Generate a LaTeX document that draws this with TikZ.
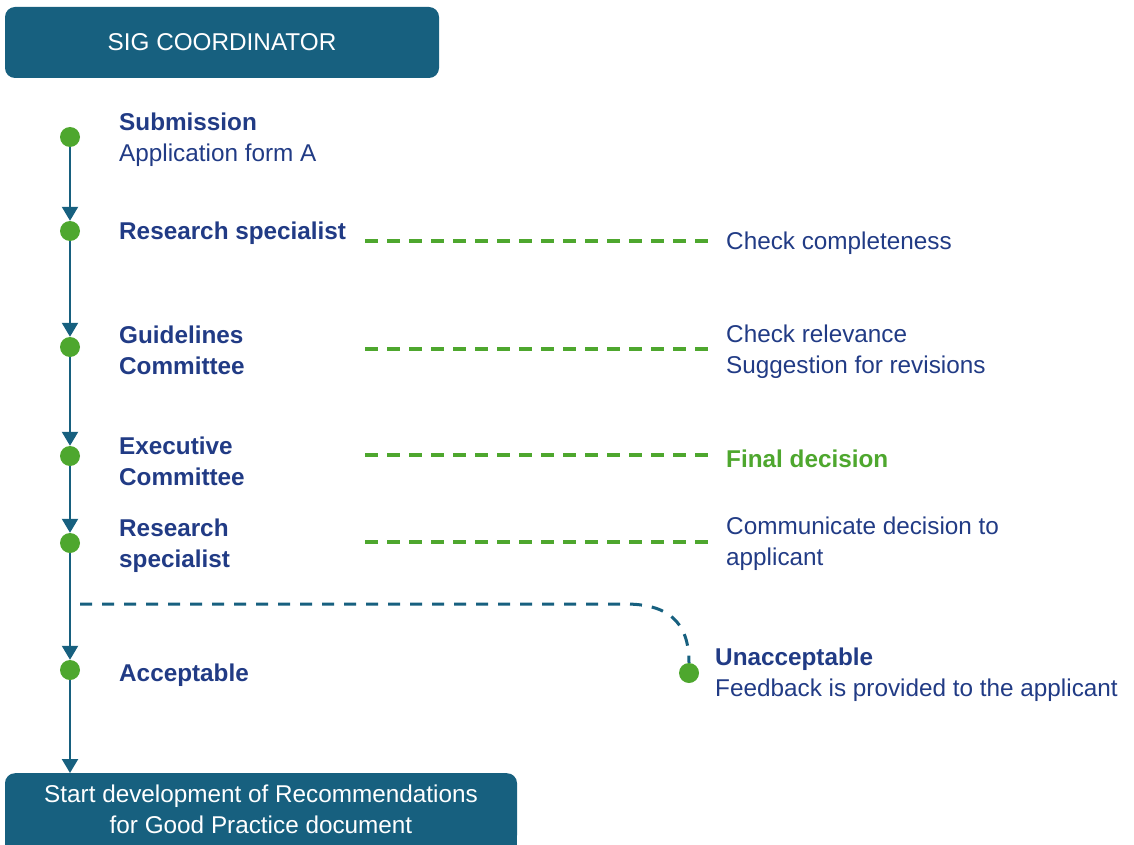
\documentclass[tikz,border=0pt]{standalone}
\usepackage{fontspec}
\setmainfont{Liberation Sans}
\usetikzlibrary{arrows.meta}
\definecolor{boxblue}{HTML}{17607F}
\definecolor{navy}{HTML}{213B85}
\definecolor{dotgreen}{HTML}{4EA72E}
\begin{document}
\begin{tikzpicture}[x=1pt,y=-1pt,
  box/.style={fill=boxblue, rounded corners=10pt, text=white, align=center, inner sep=0,
    font=\fontsize{24.3}{31}\selectfont},
  dot/.style={circle, fill=dotgreen, minimum size=20pt, inner sep=0},
  lbl/.style={anchor=west, inner sep=0, align=left, text=navy, font=\fontsize{24.3}{31}\selectfont},
  flow/.style={draw=boxblue, line width=2.2pt, -{Triangle[width=16pt,length=14pt]}},
  link/.style={draw=dotgreen, dash pattern=on 13pt off 9pt, line width=3.4pt, shorten >=16pt},
  fb/.style={draw=boxblue, dash pattern=on 12pt off 10pt, line width=3pt}]
\useasboundingbox (0,0) rectangle (1134,845);
% boxes
\node[box, minimum width=434pt, minimum height=71pt] (top) at (222,42.5) {SIG COORDINATOR};
\fill[boxblue] (5,810) rectangle (517,850);
\node[box, minimum width=512pt, minimum height=72pt, anchor=north] (bot) at (261,773)
  {Start development of Recommendations\\for Good Practice document};
% dots
\node[dot] (d1) at (70,137) {};
\node[dot] (d2) at (70,231) {};
\node[dot] (d3) at (70,347) {};
\node[dot] (d4) at (70,456) {};
\node[dot] (d5) at (70,543) {};
\node[dot] (d6) at (70,670) {};
\node[dot] (u) at (689,673) {};
% flow arrows
\draw[flow] (d1) -- (d2);
\draw[flow] (d2) -- (d3);
\draw[flow] (d3) -- (d4);
\draw[flow] (d4) -- (d5);
\draw[flow] (d5) -- (d6);
\draw[flow] (d6) -- (d6 |- bot.north);
% left labels
\node[lbl] (l1) at (119,140) {\textbf{Submission}\\Application form A};
\node[lbl] (l2) at (119,233) {\textbf{Research specialist}};
\node[lbl] (l3) at (119,350) {\textbf{Guidelines}\\\textbf{Committee}};
\node[lbl] (l4) at (119,461) {\textbf{Executive}\\\textbf{Committee}};
\node[lbl] (l5) at (119,546) {\textbf{Research}\\\textbf{specialist}};
\node[lbl] (l6) at (119,675) {\textbf{Acceptable}};
\node[lbl] (lu) at (715,675) {\textbf{Unacceptable}\\Feedback is provided to the applicant};
% right texts
\node[lbl] (r1) at (726,243) {Check completeness};
\node[lbl] (r2) at (726,352) {Check relevance\\Suggestion for revisions};
\node[lbl, text=dotgreen] (r3) at (726,459) {\textbf{Final decision}};
\node[lbl] (r4) at (726,544) {Communicate decision to\\applicant};
% green dashed links
\coordinate (g1) at (365,241);
\coordinate (g2) at (365,349);
\coordinate (g3) at (365,455);
\coordinate (g4) at (365,542);
\draw[link] (g1) -- (g1 -| r1.west);
\draw[link] (g2) -- (g2 -| r2.west);
\draw[link] (g3) -- (g3 -| r3.west);
\draw[link] (g4) -- (g4 -| r4.west);
% feedback branch
\coordinate (fbs) at (80,604);
\coordinate (fbc) at (625,604);
\draw[fb] (fbs) -- (fbc) .. controls +(42,0) and +(0,-42) .. (u.north);
\end{tikzpicture}
\end{document}
